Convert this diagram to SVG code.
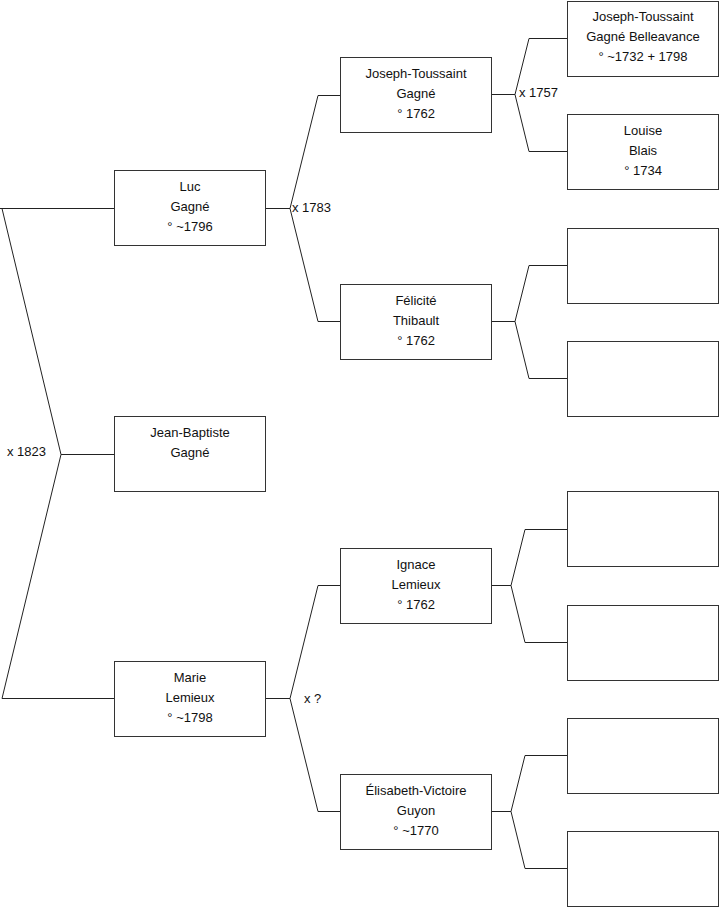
<svg xmlns="http://www.w3.org/2000/svg" width="719" height="908" viewBox="0 0 719 908">
<style>
.box{fill:#fff;stroke:#333;stroke-width:1}
.ln{fill:none;stroke:#222;stroke-width:1}
text{font-family:"Liberation Sans",Arial,sans-serif;font-size:13px;fill:#111}
.c{text-anchor:middle}
</style>
<rect width="719" height="908" fill="#fff"/>
<g id="connectors">
<path class="ln" d="M0,208.5H114M2,208.5L61,454.5L2,698.5H114M61,454.5H114"/>
<path class="ln" d="M265,208.5H290M340,95.5H318L290,208.5L318,321.5H340"/>
<path class="ln" d="M265,698.5H290M340,585.5H318L290,698.5L318,811.5H340"/>
<path class="ln" d="M491,94.5H515M567,38.5H529L515,94.5L529,151.5H567"/>
<path class="ln" d="M491,321.5H515M567,265.5H529L515,321.5L529,378.5H567"/>
<path class="ln" d="M491,585.5H511M567,529.5H525L511,585.5L525,642.5H567"/>
<path class="ln" d="M491,811.5H511M567,755.5H525L511,811.5L525,868.5H567"/>
<text x="7" y="456">x 1823</text>
<text x="292" y="212">x 1783</text>
<text x="519" y="97">x 1757</text>
<text x="304" y="703">x ?</text>
</g>
<g id="luc"><rect class="box" x="114.5" y="170.5" width="151" height="75"/>
<text class="c" x="190" y="191">Luc</text><text class="c" x="190" y="211">Gagné</text><text class="c" x="190" y="231">° ~1796</text></g>
<g id="jean-baptiste"><rect class="box" x="114.5" y="416.5" width="151" height="75"/>
<text class="c" x="190" y="437">Jean-Baptiste</text><text class="c" x="190" y="457">Gagné</text></g>
<g id="marie"><rect class="box" x="114.5" y="661.5" width="151" height="75"/>
<text class="c" x="190" y="682">Marie</text><text class="c" x="190" y="702">Lemieux</text><text class="c" x="190" y="722">° ~1798</text></g>
<g id="joseph-toussaint"><rect class="box" x="340.5" y="57.5" width="151" height="75"/>
<text class="c" x="416" y="78">Joseph-Toussaint</text><text class="c" x="416" y="98">Gagné</text><text class="c" x="416" y="118">° 1762</text></g>
<g id="felicite"><rect class="box" x="340.5" y="284.5" width="151" height="75"/>
<text class="c" x="416" y="305">Félicité</text><text class="c" x="416" y="325">Thibault</text><text class="c" x="416" y="345">° 1762</text></g>
<g id="ignace"><rect class="box" x="340.5" y="548.5" width="151" height="75"/>
<text class="c" x="416" y="569">Ignace</text><text class="c" x="416" y="589">Lemieux</text><text class="c" x="416" y="609">° 1762</text></g>
<g id="elisabeth"><rect class="box" x="340.5" y="774.5" width="151" height="75"/>
<text class="c" x="416" y="795">Élisabeth-Victoire</text><text class="c" x="416" y="815">Guyon</text><text class="c" x="416" y="835">° ~1770</text></g>
<g id="jt-belleavance"><rect class="box" x="567.5" y="1.5" width="151" height="75"/>
<text class="c" x="643" y="21">Joseph-Toussaint</text><text class="c" x="643" y="41">Gagné Belleavance</text><text class="c" x="643" y="61">° ~1732 + 1798</text></g>
<g id="louise"><rect class="box" x="567.5" y="114.5" width="151" height="75"/>
<text class="c" x="643" y="135">Louise</text><text class="c" x="643" y="155">Blais</text><text class="c" x="643" y="175">° 1734</text></g>
<g id="empty1"><rect class="box" x="567.5" y="228.5" width="151" height="75"/></g>
<g id="empty2"><rect class="box" x="567.5" y="341.5" width="151" height="75"/></g>
<g id="empty3"><rect class="box" x="567.5" y="491.5" width="151" height="75"/></g>
<g id="empty4"><rect class="box" x="567.5" y="605.5" width="151" height="75"/></g>
<g id="empty5"><rect class="box" x="567.5" y="718.5" width="151" height="75"/></g>
<g id="empty6"><rect class="box" x="567.5" y="831.5" width="151" height="75"/></g>
</svg>
